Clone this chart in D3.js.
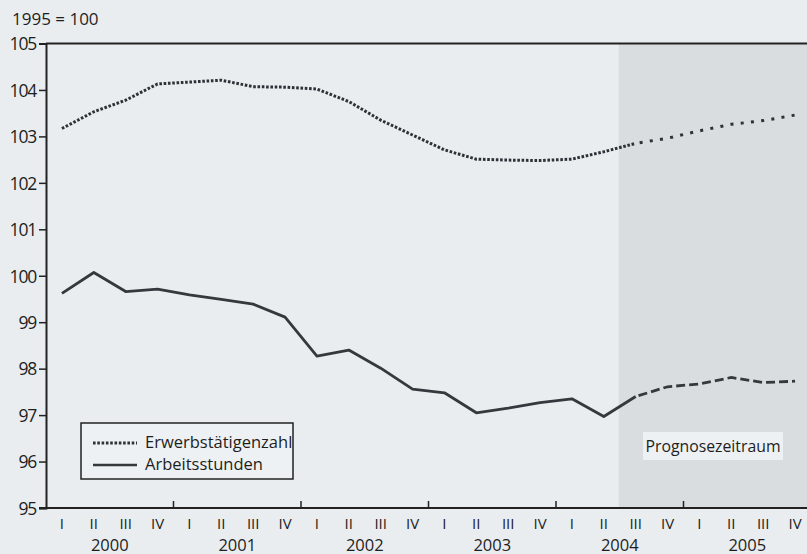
<!DOCTYPE html>
<html><head><meta charset="utf-8">
<script src="https://cdn.jsdelivr.net/npm/d3@7"></script>
<style>
html,body{margin:0;padding:0;background:#e9edf0;}
svg{display:block;}
text{font-family:"Open Sans","DejaVu Sans",sans-serif;fill:#1e1e1e;}
</style></head><body>
<svg id="c" width="807" height="554"></svg>
<script>
const years = ["2000","2001","2002","2003","2004","2005"];
const quarterLabels = ["I","II","III","IV"];
const yTicks = [95,96,97,98,99,100,101,102,103,104,105];
const erwerbstaetige = [103.17,103.53,103.78,104.13,104.17,104.21,104.07,104.06,104.02,103.75,103.35,103.03,102.71,102.51,102.49,102.48,102.51,102.67,102.85,102.96,103.12,103.26,103.34,103.46];
const arbeitsstunden = [99.62,100.07,99.66,99.71,99.59,99.49,99.39,99.11,98.27,98.40,98.01,97.56,97.48,97.05,97.15,97.27,97.35,96.97,97.40,97.61,97.67,97.81,97.70,97.73];
const forecastStart = 18; // 2004 III
const unitLabel = "1995 = 100";
const legendLabels = ["Erwerbstätigenzahl","Arbeitsstunden"];
const forecastLabel = "Prognosezeitraum";

const quarters = [];
years.forEach(yr => quarterLabels.forEach(q => quarters.push(yr + "-" + q)));

const svg = d3.select("#c");
const pL = 46, pR = 811, pT = 43.5, pB = 508;
const x = d3.scaleBand().domain(quarters).range([pL, pR]);
const y = d3.scaleLinear().domain([95,105]).range([pB, pT]);
const cx = i => x(quarters[i]) + x.bandwidth()/2;

// forecast shading
svg.append("rect")
  .attr("x", x(quarters[forecastStart]) - 1)
  .attr("y", pT)
  .attr("width", 807 - x(quarters[forecastStart]) + 1)
  .attr("height", pB - pT)
  .attr("fill", "#d9dddf");

// top frame line
svg.append("line").attr("x1", pL).attr("x2", 807).attr("y1", pT).attr("y2", pT)
  .attr("stroke", "#222").attr("stroke-width", 2);

// y axis
const yAxis = d3.axisLeft(y).tickValues(yTicks).tickSize(7).tickPadding(3).tickFormat(d3.format("d"));
const ya = svg.append("g").attr("transform", `translate(${pL},0)`).call(yAxis);
ya.select(".domain").attr("stroke", "#222").attr("stroke-width", 2);
ya.selectAll(".tick line").attr("stroke", "#222").attr("stroke-width", 1.5);
ya.selectAll(".tick text").attr("font-size", 17.5).attr("fill", "#1e1e1e").attr("letter-spacing", "-1.2px")
  .attr("dy", "0.36em")
  .style("font-family", '"Open Sans",sans-serif');

// x axis line
svg.append("line").attr("x1", pL - 7).attr("x2", 807).attr("y1", pB).attr("y2", pB)
  .attr("stroke", "#222").attr("stroke-width", 2);

// year boundary ticks
const yearScale = d3.scaleBand().domain(years).range([pL, pR]);
svg.append("g").selectAll("line").data(years.slice(1)).join("line")
  .attr("x1", d => yearScale(d)).attr("x2", d => yearScale(d))
  .attr("y1", pB - 7).attr("y2", pB)
  .attr("stroke", "#222").attr("stroke-width", 1.5);

// quarter labels
svg.append("g").selectAll("text").data(quarters).join("text")
  .attr("x", (d,i) => cx(i)).attr("y", 529)
  .attr("text-anchor", "middle").attr("font-size", 15)
  .text(d => d.split("-")[1]);

// year labels
svg.append("g").selectAll("text").data(years).join("text")
  .attr("x", d => yearScale(d) + yearScale.bandwidth()/2).attr("y", 550.5)
  .attr("text-anchor", "middle").attr("font-size", 16.5)
  .text(d => d);

// unit label
svg.append("text").attr("x", 12).attr("y", 25).attr("font-size", 17).text(unitLabel);

const line = d3.line().x(d => cx(d.i)).y(d => y(d.v));
const toPts = arr => arr.map((v,i) => ({i, v}));
const e = toPts(erwerbstaetige), a = toPts(arbeitsstunden);

// Erwerbstätigenzahl
svg.append("path").attr("d", line(e.slice(0, forecastStart+1)))
  .attr("fill","none").attr("stroke","#2e3238").attr("stroke-width",3)
  .attr("stroke-dasharray","2.6,1.7");
svg.append("path").attr("d", line(e.slice(forecastStart)))
  .attr("fill","none").attr("stroke","#2e3238").attr("stroke-width",3)
  .attr("stroke-dasharray","3,7.3").attr("stroke-dashoffset", -4);

// Arbeitsstunden
svg.append("path").attr("d", line(a.slice(0, forecastStart+1)))
  .attr("fill","none").attr("stroke","#35383d").attr("stroke-width",2.8)
  .attr("stroke-linejoin","round");
svg.append("path").attr("d", line(a.slice(forecastStart)))
  .attr("fill","none").attr("stroke","#35383d").attr("stroke-width",2.8)
  .attr("stroke-dasharray","9,4").attr("stroke-dashoffset", -3);

// legend
const lg = svg.append("g");
lg.append("rect").attr("x", 81).attr("y", 423).attr("width", 212).attr("height", 56)
  .attr("fill", "#eef1f3").attr("stroke", "#222").attr("stroke-width", 1.5);
lg.append("line").attr("x1", 93).attr("x2", 137).attr("y1", 443).attr("y2", 443)
  .attr("stroke","#2e3238").attr("stroke-width",3).attr("stroke-dasharray","2.6,1.7");
lg.append("line").attr("x1", 93).attr("x2", 137).attr("y1", 465).attr("y2", 465)
  .attr("stroke","#35383d").attr("stroke-width",2.4);
lg.append("text").attr("x", 145).attr("y", 447.5).attr("font-size", 16.5).text(legendLabels[0]);
lg.append("text").attr("x", 145).attr("y", 470).attr("font-size", 16.5).text(legendLabels[1]);

// forecast label
svg.append("rect").attr("x", 643).attr("y", 432).attr("width", 140).attr("height", 28).attr("fill", "#eef1f3");
svg.append("text").attr("x", 713).attr("y", 452).attr("text-anchor","middle").attr("font-size", 15.8).text(forecastLabel);
</script>
</body></html>
